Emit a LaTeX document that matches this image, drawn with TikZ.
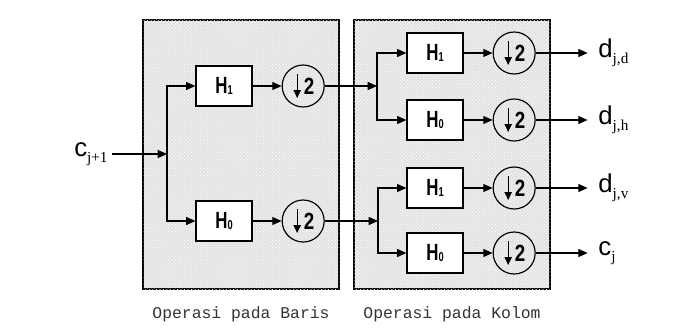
\documentclass[tikz,border=0pt]{standalone}
\usepackage{fontspec}
\usepackage{graphicx}
\setmainfont{Liberation Sans}
\setmonofont{Liberation Mono}
\newfontfamily\subfont{Liberation Serif}
\usetikzlibrary{arrows.meta, positioning, patterns}

% filter label and signal label
\newcommand{\hlab}[1]{\scalebox{0.72}[1]{H\raisebox{-0.1ex}{\fontsize{11}{11}\selectfont #1}}}
\newcommand{\sig}[2]{#1\raisebox{-0.45ex}{\fontsize{13}{13}\subfont #2}}

\begin{document}
\begin{tikzpicture}[x=0.03cm, y=-0.03cm,
    FilterBox/.style={draw, fill=white, line width=1pt, minimum width=1.68cm,
                minimum height=1.2cm, font=\fontsize{20}{20}\selectfont\bfseries},
    DownSample/.style={draw, circle, line width=1pt, minimum size=1.26cm,
                inner sep=0pt, font=\fontsize{20}{20}\selectfont\bfseries},
    Panel/.style={draw, line width=1pt, fill=gray!22, minimum width=5.88cm,
                minimum height=8.07cm,
                postaction={pattern=crosshatch dots, pattern color=white}},
    Sig/.style={font=\fontsize{22}{26}\selectfont, inner sep=1pt},
    Caption/.style={font=\ttfamily\fontsize{14}{16}\selectfont, text=black!80},
    arr/.style={-{Triangle[length=2.8mm, width=2.4mm]}, line width=1pt},
    node distance=0.87cm,
  ]
\useasboundingbox (0,0) rectangle (674,330);

% the two stages
\node[Panel] (baris) at (241,154.5) {};
\node[Panel] (kolom) at (452,154.5) {};
\node[Caption, below=11pt of baris] (capB) {Operasi pada Baris};
\node[Caption, below=11pt of kolom] (capK) {Operasi pada Kolom};

% rows
\node[FilterBox] (rh1) at (224,86) {\hlab{1}};
\node[FilterBox] (rh0) at (224,221) {\hlab{0}};
\node[DownSample, right=of rh1] (rd1) {\hspace*{10pt}\scalebox{0.8}[1]{2}};
\node[DownSample, right=of rh0] (rd0) {\hspace*{10pt}\scalebox{0.8}[1]{2}};

% columns
\node[FilterBox] (kh1a) at (435,53) {\hlab{1}};
\node[FilterBox] (kh0a) at (435,120) {\hlab{0}};
\node[FilterBox] (kh1b) at (435,188) {\hlab{1}};
\node[FilterBox] (kh0b) at (435,253) {\hlab{0}};
\node[DownSample, right=of kh1a] (kd1a) {\hspace*{10pt}\scalebox{0.8}[1]{2}};
\node[DownSample, right=of kh0a] (kd0a) {\hspace*{10pt}\scalebox{0.8}[1]{2}};
\node[DownSample, right=of kh1b] (kd1b) {\hspace*{10pt}\scalebox{0.8}[1]{2}};
\node[DownSample, right=of kh0b] (kd0b) {\hspace*{10pt}\scalebox{0.8}[1]{2}};

% down arrows inside the circles
\foreach \d in {rd1, rd0, kd1a, kd0a, kd1b, kd0b}
  \draw[-{Triangle[length=2.4mm, width=2.2mm]}, line width=1pt]
    ([shift={(-6,-12)}]\d.center) -- ++(0,24);

% signals in and out
\node[Sig, anchor=east] (cin) at (109,154) {\sig{c}{j+1}};
\node[Sig, anchor=west] (odd) at (597,53) {\sig{d}{j,d}};
\node[Sig, anchor=west] (odh) at (597,120) {\sig{d}{j,h}};
\node[Sig, anchor=west] (odv) at (597,188) {\sig{d}{j,v}};
\node[Sig, anchor=west] (oc) at (597,253) {\sig{c}{j}};

\coordinate (rsplit) at (167,154);
\coordinate (ksplita) at (377,86);
\coordinate (ksplitb) at (378,221);

\draw[arr] (cin.east) ++(3,0) -- (rsplit);
\draw[arr] (rsplit) |- (rh1);
\draw[arr] (rsplit) |- (rh0);
\draw[arr] (rh1) -- (rd1);
\draw[arr] (rh0) -- (rd0);

\draw[arr] (rd1) -- (ksplita);
\draw[arr] (rd0) -- (ksplitb);
\draw[arr] (ksplita) |- (kh1a);
\draw[arr] (ksplita) |- (kh0a);
\draw[arr] (ksplitb) |- (kh1b);
\draw[arr] (ksplitb) |- (kh0b);

\foreach \h/\d/\o in {kh1a/kd1a/odd, kh0a/kd0a/odh, kh1b/kd1b/odv, kh0b/kd0b/oc}{
  \draw[arr] (\h) -- (\d);
  \draw[arr] (\d) -- ([xshift=-8pt]\d -| \o.west);
}
\end{tikzpicture}
\end{document}
